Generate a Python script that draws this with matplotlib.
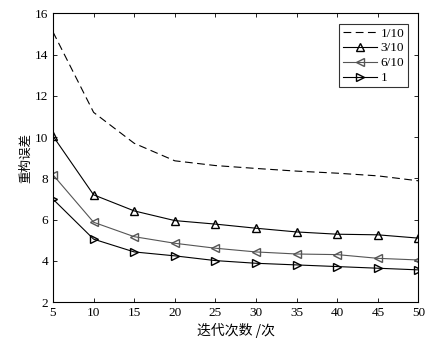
import numpy as np
import matplotlib.pyplot as plt

plt.rcParams['font.family'] = ['Liberation Serif', 'Noto Sans CJK SC']

iters = [5, 10, 15, 20, 25, 30, 35, 40, 45, 50]
r_01 = [15.1, 11.2, 9.7, 8.85, 8.62, 8.48, 8.35, 8.25, 8.12, 7.88]
r_03 = [10.05, 7.2, 6.42, 5.95, 5.78, 5.58, 5.40, 5.29, 5.26, 5.10]
r_06 = [8.17, 5.87, 5.17, 4.85, 4.61, 4.43, 4.33, 4.30, 4.12, 4.04]
r_1 = [6.99, 5.05, 4.43, 4.24, 4.01, 3.88, 3.80, 3.72, 3.64, 3.56]
labels = ['1/10', '3/10', '6/10', '1']

fig = plt.figure(figsize=(4.33, 3.44), dpi=100)
ax = fig.add_axes([0.1224, 0.122, 0.844, 0.839])

ax.plot(iters, r_01, '--', color='black', lw=0.8, dashes=(7, 4), label=labels[0])
ax.plot(iters, r_03, '-^', color='black', lw=0.8, ms=5.5, mfc='none', mew=1.0, label=labels[1])
ax.plot(iters, r_06, '-<', color='#555555', lw=0.8, ms=5.5, mfc='none', mew=1.0, label=labels[2])
ax.plot(iters, r_1, '->', color='black', lw=0.8, ms=5.5, mfc='none', mew=1.0, label=labels[3])

ax.set_xlim(5, 50)
ax.set_ylim(2, 16)
ax.set_xticks(range(5, 51, 5))
ax.set_yticks(range(2, 17, 2))
ax.tick_params(direction='in', top=True, right=True, labelsize=9.5, length=3, width=0.6)
for s in ax.spines.values():
    s.set_linewidth(0.8)

ax.set_xlabel('迭代次数 /次', fontsize=10, family=['Noto Sans CJK SC'], labelpad=3)
ax.set_ylabel('重构误差', fontsize=9, family=['Noto Sans CJK SC'], labelpad=2)

leg = ax.legend(loc='upper right', fontsize=9.5, frameon=True, fancybox=False,
                edgecolor='black', handlelength=2.6, borderpad=0.25,
                labelspacing=0.2, handletextpad=0.3, borderaxespad=0.8)
leg.get_frame().set_linewidth(0.8)

fig.savefig('out.png', dpi=100)
